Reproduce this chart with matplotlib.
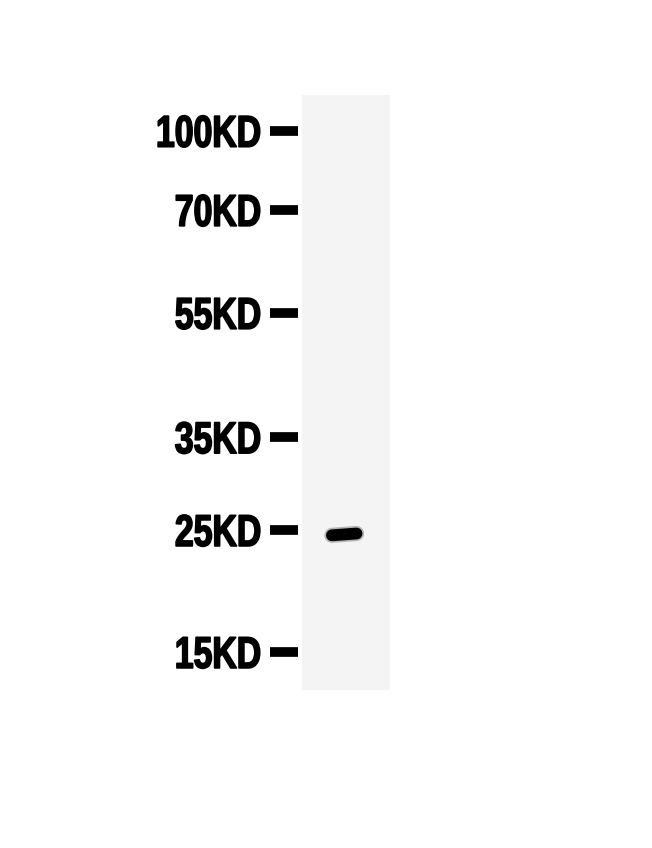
import matplotlib
matplotlib.use("Agg")
import matplotlib.pyplot as plt
from matplotlib.patheffects import AbstractPathEffect
from matplotlib.transforms import Affine2D

# Marker ladder (kD) and their migration distance (fraction of lane length)
marker_labels = ["100KD", "70KD", "55KD", "35KD", "25KD", "15KD"]
marker_migration = [0.060, 0.193, 0.366, 0.575, 0.731, 0.936]

# Sample band(s): lane index, migration distance, relative intensity
band_lanes = [1]
band_migration = [0.738]
band_intensity = [1.0]


class Condense(AbstractPathEffect):
    """Squeeze glyph outlines horizontally about their right edge, with a slight heavier stroke."""

    def __init__(self, sx, stroke=1.2):
        super().__init__()
        self.sx = sx
        self.stroke = stroke

    def draw_path(self, renderer, gc, tpath, affine, rgbFace=None):
        x1 = tpath.get_extents().x1
        squeeze = Affine2D().translate(-x1, 0).scale(self.sx, 1).translate(x1, 0)
        gc0 = renderer.new_gc()
        gc0.copy_properties(gc)
        gc0.set_linewidth(self.stroke)
        if rgbFace is not None:
            gc0.set_foreground(rgbFace)
        renderer.draw_path(gc0, tpath, squeeze + affine, rgbFace)
        gc0.restore()


W, H = 652, 848
fig = plt.figure(figsize=(W / 100, H / 100), dpi=100)
fig.patch.set_facecolor("white")

# lane axes
lx0, lx1, ly0, ly1 = 302, 390, 95, 690
ax = fig.add_axes([lx0 / W, 1 - ly1 / H, (lx1 - lx0) / W, (ly1 - ly0) / H])
ax.set_facecolor("#f4f4f4")
ax.set_xlim(0.5, 1.5)
ax.set_ylim(1, 0)
for s in ax.spines.values():
    s.set_visible(False)
ax.spines["left"].set_position(("outward", 3))
ax.set_xticks([])
ax.set_yticks(marker_migration)
ax.set_yticklabels(marker_labels, fontsize=32, fontweight="bold",
                   family=["Liberation Sans", "DejaVu Sans"])
ax.tick_params(axis="y", length=20, width=7, pad=6, color="black")
for t in ax.get_yticklabels():
    t.set_path_effects([Condense(0.76)])

for lane, mig, inten in zip(band_lanes, band_migration, band_intensity):
    xs = [lane - 0.16, lane + 0.12]
    ys = [mig + 0.002, mig - 0.001]
    ax.plot(xs, ys, color="black", lw=11, solid_capstyle="round", alpha=0.25 * inten)
    ax.plot(xs, ys, color="black", lw=8.5, solid_capstyle="round", alpha=inten)

fig.savefig("out.png", dpi=100, facecolor="white")
